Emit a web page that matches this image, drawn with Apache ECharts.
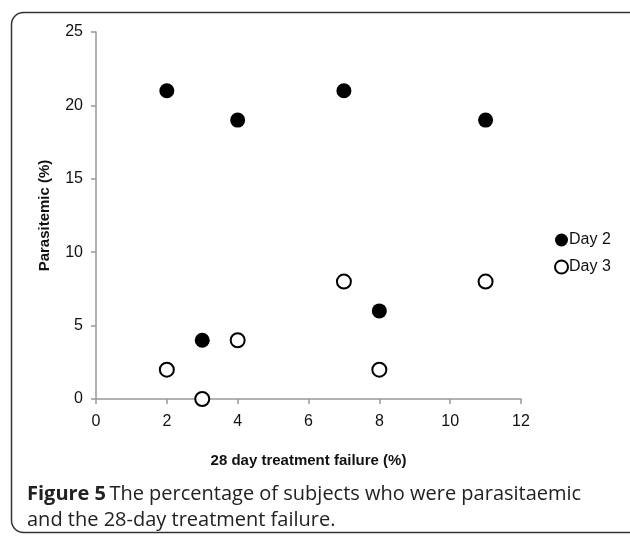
<!DOCTYPE html>
<html><head><meta charset="utf-8">
<script src="https://cdn.jsdelivr.net/npm/echarts@6/dist/echarts.min.js"></script>
<style>html,body{margin:0;padding:0;background:#fff}#c{width:630px;height:538px}</style>
</head><body><div id="c"></div>
<script>
var xTicks = [0, 2, 4, 6, 8, 10, 12];
var yTicks = [0, 5, 10, 15, 20, 25];
var day2 = [[2, 21], [4, 19], [7, 21], [11, 19], [3, 4], [8, 6]];
var day3 = [[2, 2], [3, 0], [4, 4], [7, 8], [8, 2], [11, 8]];
var seriesNames = ['Day 2', 'Day 3'];
var xTitle = '28 day treatment failure (%)';
var yTitle = 'Parasitemic (%)';

var chart = echarts.init(document.getElementById('c'), null, {renderer: 'canvas'});
var FF = 'Liberation Sans, Arial, sans-serif';
chart.setOption({
  animation: false,
  grid: {left: 96, right: 109, top: 32, bottom: 139},
  xAxis: {
    type: 'value', min: xTicks[0], max: xTicks[xTicks.length - 1], interval: 2,
    axisLine: {lineStyle: {color: '#999', width: 1.5}},
    axisTick: {show: true, length: 5, lineStyle: {color: '#999', width: 1.5}},
    splitLine: {show: false},
    axisLabel: {margin: 15, color: '#111', fontSize: 16, fontFamily: FF},
    name: xTitle, nameLocation: 'middle', nameGap: 54,
    nameTextStyle: {color: '#111', fontSize: 15, fontWeight: 'bold', fontFamily: FF}
  },
  yAxis: {
    type: 'value', min: yTicks[0], max: yTicks[yTicks.length - 1], interval: 5,
    axisLine: {show: true, lineStyle: {color: '#999', width: 1.5}},
    axisTick: {show: true, length: 5, lineStyle: {color: '#999', width: 1.5}},
    splitLine: {show: false},
    axisLabel: {margin: 13, color: '#111', fontSize: 16, fontFamily: FF},
    name: yTitle, nameLocation: 'middle', nameGap: 44,
    nameTextStyle: {color: '#111', fontSize: 15, fontWeight: 'bold', fontFamily: FF}
  },
  legend: {
    orient: 'vertical', left: 549, top: 227, itemGap: 11,
    itemWidth: 13, itemHeight: 13,
    textStyle: {color: '#111', fontSize: 16, fontFamily: FF, padding: [0, 0, 0, -4]},
    data: [
      {name: seriesNames[0], icon: 'circle', itemStyle: {color: '#000', borderWidth: 0}},
      {name: seriesNames[1], icon: 'circle', itemStyle: {color: '#fff', borderColor: '#000', borderWidth: 2}}
    ]
  },
  series: [
    {name: seriesNames[0], type: 'scatter', data: day2, symbolSize: 15,
     itemStyle: {color: '#000', opacity: 1}},
    {name: seriesNames[1], type: 'scatter', data: day3, symbolSize: 14,
     itemStyle: {color: '#fff', borderColor: '#000', borderWidth: 2, opacity: 1}}
  ],
  graphic: [
    {type: 'rect', left: 9, top: 10, shape: {width: 640, height: 520, r: 12},
     style: {fill: 'none', stroke: '#333', lineWidth: 1.5}, silent: true},
    {type: 'text', left: 27, top: 484, style: {
      rich: {b: {fontWeight: 'bold', fontSize: 20, fontFamily: 'Open Sans, sans-serif', fill: '#222', lineHeight: 26},
             n: {fontSize: 20, fontFamily: 'Open Sans, sans-serif', fill: '#222', lineHeight: 26}},
      text: '{b|Figure 5} {n|The percentage of subjects who were parasitaemic}\n{n|and the 28-day treatment failure.}'
    }}
  ]
});
</script></body></html>
